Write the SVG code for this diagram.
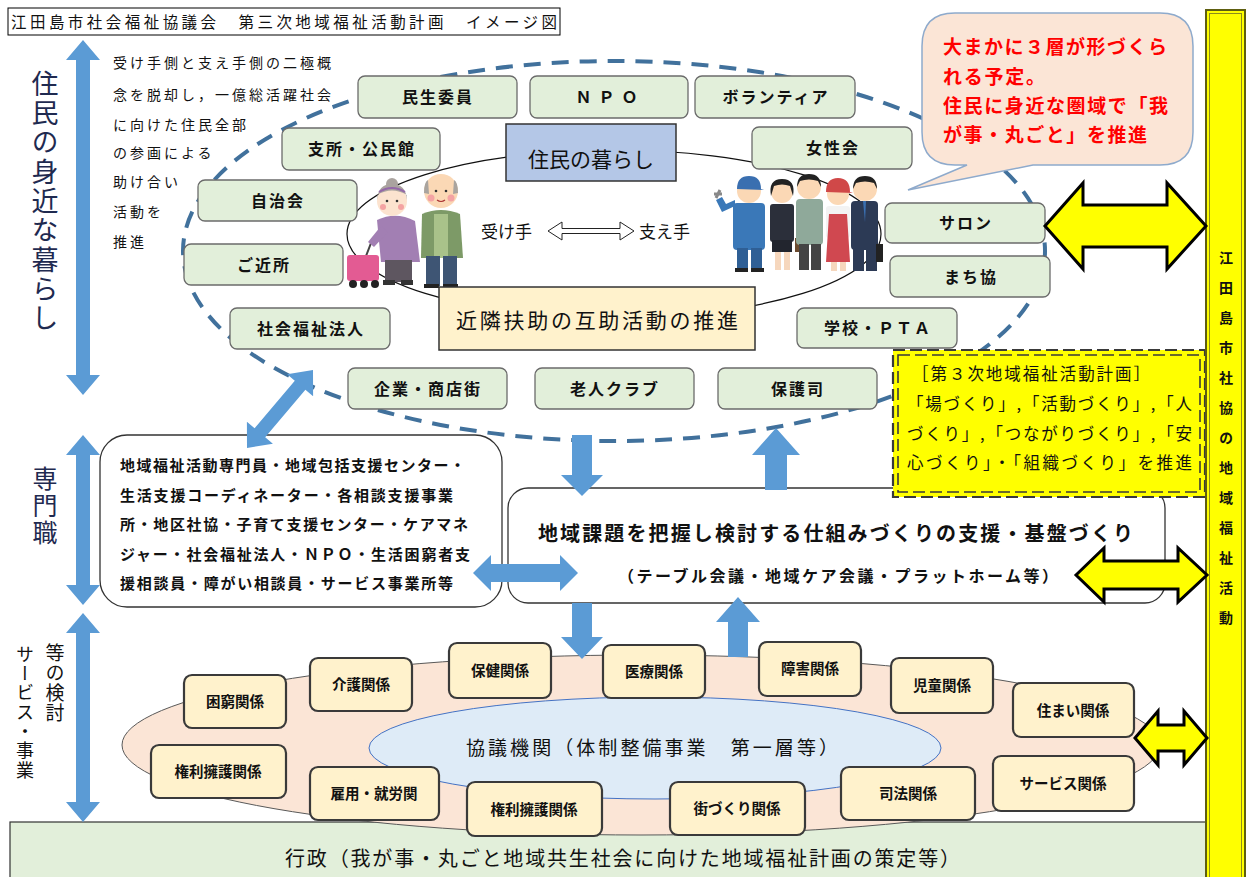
<svg xmlns="http://www.w3.org/2000/svg" width="1249" height="877" viewBox="0 0 1249 877">
  <defs>
    <style>
      text { font-family: "Noto Sans CJK JP", "Noto Sans CJK SC", sans-serif; fill: #111; }
      .gbox { fill: #e2efda; stroke: #6b6b6b; stroke-width: 1.3; }
      .tbox { fill: #fff2cc; stroke: #3a3a3a; stroke-width: 2.2; }
      .gtxt { font-size: 16px; font-weight: bold; text-anchor: middle; letter-spacing: 2px; }
      .ttxt { font-size: 14.5px; font-weight: bold; text-anchor: middle; }
      .red { fill: #ff0000; }
      .blue { fill: #5b9bd5; }
      .yel { fill: #ffff00; stroke: #000; stroke-width: 3; stroke-linejoin: miter; }
      .vert { writing-mode: vertical-rl; }
      .navy { fill: #1f2a50; }
    </style>
  </defs>

  <rect width="1249" height="877" fill="#fff"/>

  <!-- title -->
  <g id="title">
    <rect x="8" y="8" width="552" height="27" fill="#fff" stroke="#000" stroke-width="1"/>
    <text x="11" y="28" font-size="15.5" textLength="546">江田島市社会福祉協議会　第三次地域福祉活動計画　イメージ図</text>
  </g>

  <!-- administration base bar -->
  <g id="gyosei">
    <rect x="10" y="822" width="1197" height="60" fill="#e2efda" stroke="#333" stroke-width="1.2"/>
    <text x="285" y="866" font-size="20" textLength="675">行政（我が事・丸ごと地域共生社会に向けた地域福祉計画の策定等）</text>
  </g>

  <!-- community layer: dashed outer ring and inner ring -->
  <g id="community-ring">
    <ellipse cx="614" cy="251" rx="431" ry="190" fill="none" stroke="#41719c" stroke-width="4" stroke-dasharray="17 11"/>
    <ellipse cx="614" cy="234" rx="267" ry="84" fill="none" stroke="#111" stroke-width="1.2"/>
  </g>

  <!-- receivers: elderly couple -->
  <g id="receivers">
    <path d="M366 256 L373 238 L386 236" fill="none" stroke="#444" stroke-width="2"/>
    <rect x="347" y="255" width="32" height="26" rx="3" fill="#e35b93"/>
    <circle cx="353" cy="284" r="4" fill="#222"/>
    <circle cx="364" cy="284" r="4" fill="#222"/>
    <circle cx="375" cy="284" r="4" fill="#222"/>
    <path d="M377 220 Q396 211 415 221 L420 262 L381 262 Z" fill="#a27fb3"/>
    <path d="M381 226 L368 242 L374 247 L388 232 Z" fill="#a27fb3"/>
    <rect x="385" y="260" width="27" height="22" fill="#5e5660"/>
    <rect x="383" y="280" width="12" height="5" fill="#333"/>
    <rect x="401" y="280" width="12" height="5" fill="#333"/>
    <circle cx="392" cy="184" r="6" fill="#aaa39f"/>
    <circle cx="392" cy="201" r="15" fill="#fce3cf"/>
    <path d="M377 200 Q378 184 392 184 Q406 184 407 200 L407 195 Q392 186 377 195 Z" fill="#aaa39f"/>
    <path d="M379 192 Q392 184 405 192" fill="none" stroke="#9468a8" stroke-width="2"/>
    <circle cx="383" cy="207" r="3" fill="#f4a3a3"/>
    <circle cx="401" cy="207" r="3" fill="#f4a3a3"/>
    <circle cx="387" cy="201" r="1.3" fill="#333"/>
    <circle cx="397" cy="201" r="1.3" fill="#333"/>

    <path d="M422 214 Q441 206 460 214 L463 258 L421 258 Z" fill="#7d9a67"/>
    <rect x="434" y="214" width="14" height="44" fill="#a9c28a"/>
    <rect x="426" y="256" width="14" height="30" fill="#3e5574"/>
    <rect x="443" y="256" width="14" height="30" fill="#3e5574"/>
    <rect x="424" y="284" width="15" height="4" fill="#222"/>
    <rect x="443" y="284" width="15" height="4" fill="#222"/>
    <circle cx="441" cy="191" r="17" fill="#fbd8b5"/>
    <path d="M424 193 Q424 182 428 180 L429 194 Z M458 193 Q458 182 454 180 L453 194 Z" fill="#a9a49f"/>
    <circle cx="431" cy="198" r="3.5" fill="#f4a3a3"/>
    <circle cx="451" cy="198" r="3.5" fill="#f4a3a3"/>
    <circle cx="436" cy="191" r="1.3" fill="#333"/>
    <circle cx="446" cy="191" r="1.3" fill="#333"/>
    <path d="M437 200 Q441 203 445 200" fill="none" stroke="#a33" stroke-width="1.2"/>
  </g>

  <!-- supporters: working people -->
  <g id="supporters">
    <!-- worker with wrench -->
    <path d="M735 206 L722 212 L716 200 L722 197 L726 204 L735 200 Z" fill="#3a78b8"/>
    <path d="M716 198 L720 190 M714 194 L722 194" stroke="#888" stroke-width="3"/>
    <rect x="733" y="203" width="32" height="47" rx="4" fill="#3a78b8"/>
    <rect x="737" y="248" width="11" height="22" fill="#2f5f95"/>
    <rect x="751" y="248" width="11" height="22" fill="#2f5f95"/>
    <rect x="735" y="268" width="13" height="4" fill="#222"/>
    <rect x="751" y="268" width="13" height="4" fill="#222"/>
    <circle cx="749" cy="191" r="12" fill="#fbd8b5"/>
    <path d="M737 189 Q737 176 749 176 Q761 176 761 189 L764 190 L737 189 Z" fill="#3a6fb0"/>
    <!-- woman in suit -->
    <rect x="770" y="204" width="24" height="38" rx="3" fill="#2b2f3a"/>
    <rect x="772" y="240" width="20" height="12" fill="#22252e"/>
    <rect x="775" y="252" width="6" height="18" fill="#f6d7bd"/>
    <rect x="784" y="252" width="6" height="18" fill="#f6d7bd"/>
    <rect x="795" y="238" width="6" height="14" fill="#6b4a2e"/>
    <circle cx="782" cy="192" r="11" fill="#fbd8b5"/>
    <path d="M771 196 Q768 179 782 179 Q796 179 793 196 L790 186 Q782 183 774 186 Z" fill="#222"/>
    <!-- man in work jacket -->
    <rect x="796" y="199" width="27" height="46" rx="4" fill="#8fa99a"/>
    <rect x="799" y="244" width="10" height="26" fill="#444"/>
    <rect x="811" y="244" width="10" height="26" fill="#444"/>
    <circle cx="809" cy="187" r="12" fill="#fbd8b5"/>
    <path d="M797 187 Q797 174 809 174 Q821 174 821 187 L818 181 Q809 178 800 181 Z" fill="#222"/>
    <!-- woman in apron -->
    <rect x="826" y="206" width="24" height="32" rx="3" fill="#f3f3f3"/>
    <path d="M829 214 L847 214 L850 262 L826 262 Z" fill="#d04850"/>
    <rect x="831" y="262" width="6" height="9" fill="#f6d7bd"/>
    <rect x="840" y="262" width="6" height="9" fill="#f6d7bd"/>
    <circle cx="838" cy="194" r="11" fill="#fbd8b5"/>
    <path d="M826 192 Q826 178 838 178 Q850 178 850 192 L853 193 L826 192 Z" fill="#d04848"/>
    <!-- man in suit -->
    <rect x="851" y="201" width="27" height="49" rx="4" fill="#2c3a55"/>
    <path d="M863 201 L866 201 L865 222 Z" fill="#3a6fb0"/>
    <rect x="853" y="248" width="11" height="23" fill="#2c3a55"/>
    <rect x="866" y="248" width="11" height="23" fill="#2c3a55"/>
    <rect x="876" y="244" width="7" height="18" fill="#222"/>
    <circle cx="865" cy="189" r="12" fill="#fbd8b5"/>
    <path d="M853 189 Q853 176 865 176 Q877 176 877 189 L874 183 Q865 180 856 183 Z" fill="#222"/>
  </g>

  <!-- receivers / supporters label -->
  <g id="give-take">
    <text x="481" y="238" font-size="17" fill="#222">受け手</text>
    <polygon points="548,231 562,222 562,228.5 620,228.5 620,222 634,231 620,240 620,233.5 562,233.5 562,240" fill="#fff" stroke="#222" stroke-width="1"/>
    <text x="639" y="238" font-size="17" fill="#222">支え手</text>
  </g>

  <!-- community members -->
  <g id="minsei"><rect class="gbox" x="358" y="76" width="159" height="42" rx="7"/><text class="gtxt" x="438" y="103">民生委員</text></g>
  <g id="npo"><rect class="gbox" x="530" y="76" width="158" height="42" rx="7"/><text class="gtxt" x="610" y="103" style="letter-spacing:7px">ＮＰＯ</text></g>
  <g id="volunteer"><rect class="gbox" x="695" y="76" width="160" height="42" rx="7"/><text class="gtxt" x="776" y="103">ボランティア</text></g>
  <g id="shisho"><rect class="gbox" x="282" y="128" width="158" height="42" rx="7"/><text class="gtxt" x="362" y="155">支所・公民館</text></g>
  <g id="joseikai"><rect class="gbox" x="752" y="127" width="160" height="42" rx="7"/><text class="gtxt" x="833" y="154">女性会</text></g>
  <g id="jichikai"><rect class="gbox" x="198" y="180" width="159" height="41" rx="7"/><text class="gtxt" x="278" y="207">自治会</text></g>
  <g id="salon"><rect class="gbox" x="885" y="203" width="160" height="40" rx="7"/><text class="gtxt" x="966" y="229">サロン</text></g>
  <g id="gokinjo"><rect class="gbox" x="184" y="244" width="159" height="41" rx="7"/><text class="gtxt" x="264" y="271">ご近所</text></g>
  <g id="machikyo"><rect class="gbox" x="890" y="256" width="160" height="41" rx="7"/><text class="gtxt" x="971" y="283">まち協</text></g>
  <g id="shafuku"><rect class="gbox" x="230" y="308" width="160" height="41" rx="7"/><text class="gtxt" x="311" y="335">社会福祉法人</text></g>
  <g id="pta"><rect class="gbox" x="797" y="308" width="160" height="40" rx="7"/><text class="gtxt" x="878" y="334">学校・ＰＴＡ</text></g>
  <g id="kigyo"><rect class="gbox" x="348" y="368" width="159" height="41" rx="7"/><text class="gtxt" x="428" y="395">企業・商店街</text></g>
  <g id="rojin"><rect class="gbox" x="535" y="368" width="159" height="41" rx="7"/><text class="gtxt" x="615" y="395">老人クラブ</text></g>
  <g id="hogoshi"><rect class="gbox" x="718" y="368" width="159" height="41" rx="7"/><text class="gtxt" x="798" y="395">保護司</text></g>

  <g id="kurashi">
    <rect x="506" y="124" width="170" height="57" fill="#b4c7e7" stroke="#333" stroke-width="1.5"/>
    <text x="591" y="167" font-size="21" text-anchor="middle">住民の暮らし</text>
  </g>
  <g id="gojo">
    <rect x="439" y="287" width="316" height="63" fill="#fff2cc" stroke="#333" stroke-width="1.5"/>
    <text x="597" y="328" font-size="21" text-anchor="middle" textLength="282">近隣扶助の互助活動の推進</text>
  </g>

  <!-- intro note -->
  <g id="intro" font-size="14" style="letter-spacing:3px">
    <text x="113" y="68">受け手側と支え手側の二極概</text>
    <text x="113" y="100">念を脱却し，一億総活躍社会</text>
    <text x="113" y="130">に向けた住民全部</text>
    <text x="113" y="158">の参画による</text>
    <text x="113" y="187">助け合い</text>
    <text x="113" y="217">活動を</text>
    <text x="113" y="247">推進</text>
  </g>

  <!-- speech bubble -->
  <g id="bubble">
    <path d="M955 13 H1160 Q1193 13 1193 46 V132 Q1193 165 1160 165 H1033 L908 190 L967 165 H955 Q922 165 922 132 V46 Q922 13 955 13 Z" fill="#fbe5d6" stroke="#8eaacc" stroke-width="1.5"/>
    <g font-size="19" font-weight="bold">
      <text class="red" x="943" y="54" textLength="224">大まかに３層が形づくら</text>
      <text class="red" x="943" y="84" textLength="102">れる予定。</text>
      <text class="red" x="943" y="113" textLength="225">住民に身近な圏域で「我</text>
      <text class="red" x="943" y="142" textLength="204">が事・丸ごと」を推進</text>
    </g>
  </g>

  <!-- professionals box -->
  <g id="senmonshoku">
    <rect x="100" y="435" width="402" height="172" rx="27" fill="#fff" stroke="#333" stroke-width="1.3"/>
    <g font-size="15" font-weight="bold">
      <text x="120" y="471" textLength="345">地域福祉活動専門員・地域包括支援センター・</text>
      <text x="120" y="501" textLength="333">生活支援コーディネーター・各相談支援事業</text>
      <text x="120" y="530" textLength="348">所・地区社協・子育て支援センター・ケアマネ</text>
      <text x="120" y="560" textLength="350">ジャー・社会福祉法人・ＮＰＯ・生活困窮者支</text>
      <text x="120" y="589" textLength="333">援相談員・障がい相談員・サービス事業所等</text>
    </g>
  </g>

  <!-- support platform box -->
  <g id="kiban">
    <rect x="508" y="488" width="657" height="115" rx="20" fill="#fff" stroke="#333" stroke-width="1.3"/>
    <text x="538" y="541" font-size="20" font-weight="bold" textLength="595">地域課題を把握し検討する仕組みづくりの支援・基盤づくり</text>
    <text x="618" y="582" font-size="16" font-weight="bold" textLength="440">（テーブル会議・地域ケア会議・プラットホーム等）</text>
  </g>

  <!-- plan highlights -->
  <g id="plan">
    <rect x="893" y="350" width="312" height="147" fill="#ffff00" stroke="#3a3a3a" stroke-width="2.2" stroke-dasharray="12 5"/>
    <rect x="898" y="355" width="302" height="137" fill="none" stroke="#3a3a3a" stroke-width="1.6" stroke-dasharray="12 5"/>
    <g font-size="16.5">
      <text x="912" y="380" textLength="238">［第３次地域福祉活動計画］</text>
      <text x="907" y="410" textLength="285">「場づくり」,「活動づくり」,「人</text>
      <text x="907" y="440" textLength="285">づくり」,「つながりづくり」,「安</text>
      <text x="907" y="469" textLength="285">心づくり」・「組織づくり」を推進</text>
    </g>
  </g>

  <!-- service layer -->
  <g id="service-ring">
    <ellipse cx="641" cy="745" rx="519" ry="90" fill="#fbe5d6" stroke="#595959" stroke-width="1"/>
    <ellipse cx="655" cy="748" rx="286" ry="51" fill="#deebf7" stroke="#4472c4" stroke-width="1"/>
    <text x="466" y="755" font-size="19" textLength="372">協議機関（体制整備事業　第一層等）</text>
  </g>

  <g id="konkyu"><rect class="tbox" x="184" y="675" width="102" height="53" rx="8"/><text class="ttxt" x="235" y="707">困窮関係</text></g>
  <g id="kaigo"><rect class="tbox" x="310" y="658" width="102" height="53" rx="8"/><text class="ttxt" x="361" y="690">介護関係</text></g>
  <g id="hoken"><rect class="tbox" x="449" y="643" width="102" height="55" rx="8"/><text class="ttxt" x="500" y="676">保健関係</text></g>
  <g id="iryo"><rect class="tbox" x="603" y="645" width="102" height="53" rx="8"/><text class="ttxt" x="654" y="677">医療関係</text></g>
  <g id="shogai"><rect class="tbox" x="759" y="642" width="102" height="54" rx="8"/><text class="ttxt" x="810" y="674">障害関係</text></g>
  <g id="jido"><rect class="tbox" x="891" y="658" width="102" height="55" rx="8"/><text class="ttxt" x="942" y="691">児童関係</text></g>
  <g id="sumai"><rect class="tbox" x="1013" y="683" width="121" height="54" rx="8"/><text class="ttxt" x="1073" y="716">住まい関係</text></g>
  <g id="kenri1"><rect class="tbox" x="151" y="745" width="135" height="53" rx="8"/><text class="ttxt" x="218" y="777">権利擁護関係</text></g>
  <g id="koyo"><rect class="tbox" x="310" y="767" width="129" height="53" rx="8"/><text class="ttxt" x="374" y="799">雇用・就労関</text></g>
  <g id="kenri2"><rect class="tbox" x="467" y="782" width="135" height="54" rx="8"/><text class="ttxt" x="534" y="815">権利擁護関係</text></g>
  <g id="machizukuri"><rect class="tbox" x="670" y="782" width="135" height="53" rx="8"/><text class="ttxt" x="737" y="814">街づくり関係</text></g>
  <g id="shiho"><rect class="tbox" x="841" y="767" width="134" height="53" rx="8"/><text class="ttxt" x="908" y="799">司法関係</text></g>
  <g id="service"><rect class="tbox" x="993" y="756" width="141" height="55" rx="8"/><text class="ttxt" x="1063" y="789">サービス関係</text></g>

  <!-- activity bar -->
  <g id="katsudo">
    <rect x="1206" y="10" width="39" height="872" fill="#ffff00" stroke="#5e5e10" stroke-width="2"/>
    <rect x="1209.5" y="13.5" width="32" height="868" fill="none" stroke="#8c8c1c" stroke-width="1"/>
    <text class="vert" x="1226" y="251" font-size="14" font-weight="bold" style="letter-spacing:16px">江田島市社協の地域福祉活動</text>
  </g>

  <!-- layer labels -->
  <g id="labels">
    <text class="vert navy" x="45" y="70" font-size="27" style="letter-spacing:2.3px">住民の身近な暮らし</text>
    <text class="vert navy" x="45" y="466" font-size="25" style="letter-spacing:2px">専門職</text>
    <text class="vert" x="55" y="643" font-size="19" style="letter-spacing:1px">等の検討</text>
    <text class="vert" x="25" y="645" font-size="18" style="letter-spacing:1.3px">サービス・事業</text>
  </g>

  <!-- connectors -->
  <g id="connectors">
    <!-- layer range arrows -->
    <polygon class="blue" points="83,40 100,60 90,60 90,375 100,375 83,395 66,375 76,375 76,60 66,60"/>
    <polygon class="blue" points="83,435 100,455 90,455 90,585 100,585 83,605 66,585 76,585 76,455 66,455"/>
    <polygon class="blue" points="83,613 100,633 90,633 90,802 100,802 83,822 66,802 76,802 76,633 66,633"/>
    <!-- community to professionals -->
    <polygon class="blue" points="247,448 272.9,443.7 265.2,437.2 305.4,389.8 313.1,396.3 313,370 287.1,374.3 294.8,380.8 254.6,428.2 246.9,421.7"/>
    <!-- community down to platform -->
    <polygon class="blue" points="572,435 592,435 592,475 603,475 582,496 561,475 572,475"/>
    <!-- platform up to community -->
    <polygon class="blue" points="765,490 787,490 787,455 800,455 776,428 752,455 765,455"/>
    <!-- professionals to platform -->
    <polygon class="blue" points="473,573 491,555 491,564 560,564 560,555 578,573 560,591 560,582 491,582 491,591"/>
    <!-- platform down to services -->
    <polygon class="blue" points="572,603 592,603 592,637 603,637 582,659 561,637 572,637"/>
    <!-- services up to platform -->
    <polygon class="blue" points="728,657 748,657 748,622 760,622 738,597 716,622 728,622"/>
    <!-- links to the activity bar -->
    <polygon class="yel" points="1045,226 1083,183 1083,205 1167,205 1167,183 1206,226 1167,269 1167,247 1083,247 1083,269"/>
    <polygon class="yel" points="1076,575 1104,548 1104,561 1178,561 1178,548 1207,575 1178,602 1178,589 1104,589 1104,602"/>
    <polygon class="yel" points="1135,738 1158,711 1158,725 1184,725 1184,711 1207,738 1184,765 1184,751 1158,751 1158,765"/>
  </g>
</svg>
